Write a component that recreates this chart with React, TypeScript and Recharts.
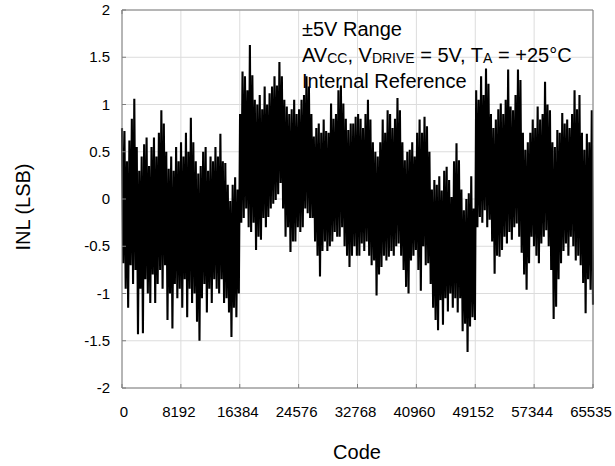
import { LineChart, Line, XAxis, YAxis, CartesianGrid } from 'recharts'

const INL_Q1 = [
  0.75, -0.68, 0.72, -0.95, 0.4, -1.15, 0.62, -0.7, 0.85, -0.9, 1.06, -0.75,
  0.55, -1.43, 0.3, -0.95, 0.45, -1.42, 0.58, -0.85, 0.65, -1.0, 0.35, -1.1,
  0.55, -0.8, 0.65, -1.1, 0.45, -0.9, 0.7, -0.75, 0.94, -0.95, 0.8, -0.7,
  0.5, -1.28, 0.32, -1.0, 0.45, -1.37, 0.3, -0.9, 0.55, -1.05, 0.4, -0.95,
  0.6, -1.15, 0.45, -0.85, 0.7, -1.25, 0.5, -0.95, 0.86, -1.1, 0.6, -1.0,
  0.4, -1.3, 0.27, -1.5, 0.35, -1.05, 0.5, -0.9, 0.55, -1.2, 0.3, -0.95,
  0.45, -1.1, 0.4, -0.85, 0.55, -0.95, 0.45, -1.0, 0.69, -0.85, 0.4, -1.1,
  0.38, -1.05, 0.15, -1.2, -0.02, -1.46, 0.15, -1.15, 0.23, -1.25, 0.1, -1.0,
]
const INL_Q2 = [
  0.9, -0.25, 1.35, -0.2, 1.3, -0.1, 1.15, -0.3, 1.63, -0.35, 1.31, -0.25,
  1.05, -0.54, 1.0, -0.4, 1.1, -0.43, 0.95, -0.2, 1.19, -0.3, 1.0, -0.19,
  1.12, -0.1, 1.19, -0.05, 1.3, -0.01, 1.2, 0.05, 1.45, 0.17, 1.3, -0.1,
  1.05, -0.4, 0.98, -0.3, 0.9, -0.56, 0.95, -0.45, 1.05, -0.45, 0.9, -0.3,
  0.95, -0.35, 1.05, -0.3, 1.1, -0.1, 1.3, -0.15, 1.19, -0.2, 0.9, -0.2,
  0.66, -0.45, 0.75, -0.6, 0.8, -0.82, 0.7, -0.55, 0.84, -0.45, 0.72, -0.55,
  0.7, -0.5, 1.01, -0.45, 0.85, -0.35, 0.9, -0.4, 1.15, -0.4, 1.2, -0.3,
  1.01, -0.5, 0.85, -0.6, 0.73, -0.72, 0.8, -0.6, 0.8, -0.5, 0.87, -0.6,
]
const INL_Q3 = [
  0.9, -0.6, 0.85, -0.47, 0.75, -0.55, 0.9, -0.45, 1.05, -0.6, 0.84, -0.7,
  0.6, -0.65, 0.5, -1.02, 0.45, -0.8, 0.6, -0.72, 0.84, -0.6, 0.7, -0.65,
  0.94, -0.61, 0.9, -0.55, 0.75, -0.6, 0.85, -0.5, 1.07, -0.47, 0.94, -0.6,
  0.6, -0.75, 0.41, -0.93, 0.5, -1.0, 0.52, -0.65, 0.6, -0.6, 0.45, -0.54,
  0.7, -0.75, 0.84, -0.97, 0.7, -0.5, 0.87, -0.7, 0.77, -0.68, 0.5, -0.9,
  0.1, -1.15, 0.2, -1.28, 0.15, -1.39, 0.24, -1.07, 0.09, -1.33, 0.3, -1.05,
  0.34, -1.19, 0.2, -1.0, 0.02, -1.15, 0.4, -1.05, 0.59, -1.2, 0.41, -1.05,
  0.1, -1.4, -0.12, -1.32, 0.0, -1.62, 0.06, -1.35, 0.24, -1.25, -0.1, -1.28,
]
const INL_Q4 = [
  1.15, -0.3, 1.05, -0.19, 1.3, -0.25, 1.1, -0.12, 1.38, -0.3, 1.22, -0.22,
  0.9, -0.45, 0.75, -0.79, 0.84, -0.6, 0.95, -0.61, 1.01, -0.54, 0.9, -0.4,
  1.05, -0.47, 1.37, -0.35, 0.98, -0.43, 0.94, -0.3, 1.1, -0.26, 1.37, -0.4,
  1.26, -0.57, 0.7, -0.8, 0.52, -0.96, 0.6, -0.68, 0.7, -0.4, 0.84, -0.5,
  0.75, -0.6, 0.98, -0.68, 0.84, -0.47, 0.9, -0.4, 1.24, -0.33, 1.0, -0.5,
  0.94, -0.75, 0.6, -1.27, 0.55, -1.14, 0.73, -0.85, 0.7, -0.68, 0.91, -0.55,
  0.8, -0.47, 0.84, -0.6, 0.75, -0.4, 0.9, -0.5, 1.15, -0.65, 0.95, -0.6,
  1.1, -0.7, 0.7, -0.89, 0.52, -1.21, 0.69, -0.85, 0.6, -0.96, 0.94, -1.12,
]

const MAX_CODE = 65535
const X_TICKS = [0, 8192, 16384, 24576, 32768, 40960, 49152, 57344, 65535]
const Y_TICKS = [-2, -1.5, -1, -0.5, 0, 0.5, 1, 1.5, 2]

const inl = [...INL_Q1, ...INL_Q2, ...INL_Q3, ...INL_Q4]
const data = inl.map((v, i) => ({ code: Math.round((i * MAX_CODE) / (inl.length - 1)), inl: v }))

const FONT = 'Arial, "Liberation Sans", sans-serif'
const FRAME = '#7f7f7f'

// eslint-disable-next-line @typescript-eslint/no-explicit-any
function BottomTick({ x, y, payload }: any) {
  return (
    <g>
      <line x1={x} y1={y} x2={x} y2={y - 4} stroke={FRAME} />
      <text x={payload.value === 0 ? x + 2 : x - 2} y={y + 29} textAnchor="middle" fontSize={15} fontFamily={FONT} fill="#000">
        {payload.value}
      </text>
    </g>
  )
}

// eslint-disable-next-line @typescript-eslint/no-explicit-any
function TopTick({ x, y }: any) {
  return <line x1={x} y1={y} x2={x} y2={y + 4} stroke={FRAME} />
}

// eslint-disable-next-line @typescript-eslint/no-explicit-any
function LeftTick({ x, y, payload }: any) {
  return (
    <g>
      <line x1={x} y1={y} x2={x + 4} y2={y} stroke={FRAME} />
      <text x={x - 12} y={y + 5} textAnchor="end" fontSize={15} fontFamily={FONT} fill="#000">
        {payload.value}
      </text>
    </g>
  )
}

// eslint-disable-next-line @typescript-eslint/no-explicit-any
function RightTick({ x, y }: any) {
  return <line x1={x} y1={y} x2={x - 4} y2={y} stroke={FRAME} />
}

export default function App() {
  return (
    <div style={{ position: 'absolute', left: 0, top: 0, background: '#fff' }}>
      <LineChart width={615} height={466} data={data} margin={{ top: 5, right: 12, bottom: 48, left: 0 }}>
        <CartesianGrid stroke="#dcdcdc" strokeWidth={1} />
        <XAxis
          dataKey="code"
          type="number"
          domain={[0, MAX_CODE]}
          ticks={X_TICKS}
          interval={0}
          height={30}
          tickSize={0}
          tickMargin={0}
          tick={<BottomTick />}
          axisLine={{ stroke: FRAME }}
        />
        <XAxis
          xAxisId="top"
          orientation="top"
          type="number"
          domain={[0, MAX_CODE]}
          ticks={X_TICKS}
          interval={0}
          height={5}
          tickSize={0}
          tickMargin={0}
          tick={<TopTick />}
          axisLine={{ stroke: FRAME }}
        />
        <YAxis
          type="number"
          domain={[-2, 2]}
          ticks={Y_TICKS}
          interval={0}
          width={122}
          tickSize={0}
          tickMargin={0}
          tick={<LeftTick />}
          axisLine={{ stroke: FRAME }}
        />
        <YAxis
          yAxisId="right"
          orientation="right"
          type="number"
          domain={[-2, 2]}
          ticks={Y_TICKS}
          interval={0}
          width={10}
          tickSize={0}
          tickMargin={0}
          tick={<RightTick />}
          axisLine={{ stroke: FRAME }}
        />
        <Line
          dataKey="inl"
          type="linear"
          stroke="#000"
          strokeWidth={2.1}
          strokeLinejoin="miter"
          strokeMiterlimit={2}
          dot={false}
          isAnimationActive={false}
        />
        <g fontFamily={FONT} fill="#000">
          <text x={302} y={36} fontSize={20}>±5V Range</text>
          <text x={302} y={62} fontSize={20}>
            AV<tspan fontSize={14} dy={1}>CC</tspan>
            <tspan dy={-1}>, V</tspan>
            <tspan fontSize={14} dy={1}>DRIVE</tspan>
            <tspan dy={-1}> = 5V, T</tspan>
            <tspan fontSize={14} dy={1}>A</tspan>
            <tspan dy={-1}> = +25°C</tspan>
          </text>
          <text x={302} y={88} fontSize={20}>Internal Reference</text>
          <text x={357} y={459} fontSize={20} textAnchor="middle">Code</text>
          <text x={25} y={207} fontSize={20} textAnchor="middle" transform="rotate(-90 25 207)" dominantBaseline="middle">
            INL (LSB)
          </text>
        </g>
      </LineChart>
    </div>
  )
}
